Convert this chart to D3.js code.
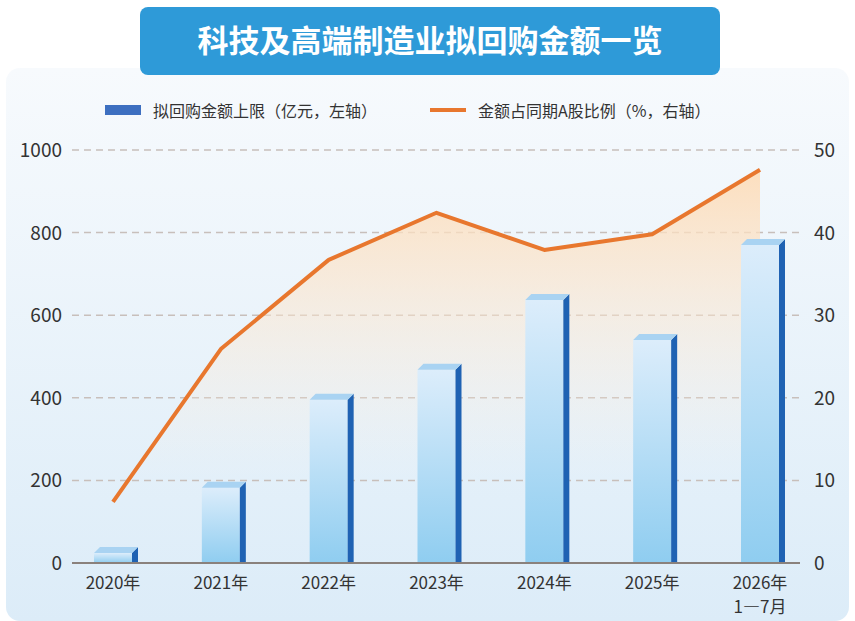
<!DOCTYPE html>
<html lang="zh">
<head>
<meta charset="UTF-8">
<title>科技及高端制造业拟回购金额一览</title>
<style>
  body{margin:0;background:#fff;font-family:"Noto Sans CJK SC","Noto Sans",sans-serif;}
</style>
</head>
<body>
<div id="chart"></div>
<script src="https://cdn.jsdelivr.net/npm/d3@7"></script>
<script>
// 数据
var years = ['2020年', '2021年', '2022年', '2023年', '2024年', '2025年', '2026年'];
var subLabels = ['', '', '', '', '', '', '1—7月'];
var amount = [24, 182, 395, 468, 637, 540, 770];          // 亿元，左轴
var ratio = [7.4, 25.9, 36.7, 42.4, 37.9, 39.8, 47.6];     // %，右轴
var leftTicks = [0, 200, 400, 600, 800, 1000];
var rightTicks = [0, 10, 20, 30, 40, 50];

var W = 855, H = 621;
var svg = d3.select('#chart').append('svg').attr('width', W).attr('height', H);
var defs = svg.append('defs');

var bg = defs.append('linearGradient').attr('id', 'bg').attr('x1', 0).attr('y1', 0).attr('x2', 0).attr('y2', 1);
bg.append('stop').attr('offset', 0).attr('stop-color', '#f7fafd');
bg.append('stop').attr('offset', 1).attr('stop-color', '#dcecf8');
var bar = defs.append('linearGradient').attr('id', 'bar').attr('x1', 0).attr('y1', 0).attr('x2', 0).attr('y2', 1);
bar.append('stop').attr('offset', 0).attr('stop-color', '#dcedfb');
bar.append('stop').attr('offset', 1).attr('stop-color', '#8fcdf0');
var area = defs.append('linearGradient').attr('id', 'area').attr('gradientUnits', 'userSpaceOnUse')
  .attr('x1', 0).attr('y1', 160).attr('x2', 0).attr('y2', 480);
area.append('stop').attr('offset', 0).attr('stop-color', '#fddcb8').attr('stop-opacity', 0.95);
area.append('stop').attr('offset', 1).attr('stop-color', '#fdf0e2').attr('stop-opacity', 0);

// 背景
svg.append('rect').attr('x', 6).attr('y', 68).attr('width', 843).attr('height', 553).attr('rx', 14).attr('fill', 'url(#bg)');
svg.append('rect').attr('x', 140).attr('y', 7).attr('width', 580).attr('height', 68).attr('rx', 8).attr('fill', '#2e9ad8');
svg.append('text').attr('x', 430).attr('y', 52).attr('text-anchor', 'middle').attr('fill', '#fff')
  .attr('font-size', 31).attr('font-weight', 'bold').text('科技及高端制造业拟回购金额一览');

// 图例
svg.append('rect').attr('x', 105).attr('y', 105).attr('width', 36).attr('height', 10).attr('fill', '#3d6fc0');
svg.append('text').attr('x', 153).attr('y', 117).attr('font-size', 16).attr('fill', '#333').text('拟回购金额上限（亿元，左轴）');
svg.append('line').attr('x1', 430).attr('x2', 466).attr('y1', 110).attr('y2', 110).attr('stroke', '#e8772e').attr('stroke-width', 4);
svg.append('text').attr('x', 478).attr('y', 117).attr('font-size', 16).attr('fill', '#333').text('金额占同期A股比例（%，右轴）');

var x = d3.scalePoint().domain(years).range([113, 760]);
var yL = d3.scaleLinear().domain([0, 1000]).range([563, 150]);
var yR = d3.scaleLinear().domain([0, 50]).range([563, 150]);

// 网格
svg.append('g').selectAll('line').data(leftTicks.slice(1)).enter().append('line')
  .attr('x1', 72).attr('x2', 800).attr('y1', d => yL(d)).attr('y2', d => yL(d))
  .attr('stroke', '#c8bfbb').attr('stroke-width', 1.5).attr('stroke-dasharray', '7,5');

// 面积
svg.append('path').datum(ratio)
  .attr('d', d3.area().x((d, i) => x(years[i])).y0(563).y1(d => yR(d)))
  .attr('fill', 'url(#area)');

// 柱
var bw = 38, dep = 6;
var g = svg.append('g').selectAll('g').data(amount).enter().append('g');
g.append('rect').attr('x', (d, i) => x(years[i]) - bw / 2).attr('y', d => yL(d))
  .attr('width', bw).attr('height', d => 563 - yL(d)).attr('fill', 'url(#bar)');
g.append('path').attr('d', (d, i) => {
  var r = x(years[i]) + bw / 2, t = yL(d);
  return 'M' + r + ',' + t + 'L' + (r + dep) + ',' + (t - dep) + 'L' + (r + dep) + ',563L' + r + ',563Z';
}).attr('fill', '#1f62b3');
g.append('path').attr('d', (d, i) => {
  var l = x(years[i]) - bw / 2, t = yL(d);
  return 'M' + l + ',' + t + 'L' + (l + dep) + ',' + (t - dep) + 'L' + (l + bw + dep) + ',' + (t - dep) + 'L' + (l + bw) + ',' + t + 'Z';
}).attr('fill', '#a9d3f2');

// 折线
svg.append('path').datum(ratio)
  .attr('d', d3.line().x((d, i) => x(years[i])).y(d => yR(d)))
  .attr('fill', 'none').attr('stroke', '#e8772e').attr('stroke-width', 4).attr('stroke-linejoin', 'round');

// 坐标轴
svg.append('line').attr('x1', 72).attr('x2', 800).attr('y1', 563).attr('y2', 563).attr('stroke', '#8a817c').attr('stroke-width', 2);
svg.append('g').selectAll('text').data(leftTicks).enter().append('text')
  .attr('x', 62).attr('y', d => yL(d) + 7).attr('text-anchor', 'end').attr('font-size', 19).attr('fill', '#333').text(d => d);
svg.append('g').selectAll('text').data(rightTicks).enter().append('text')
  .attr('x', 814).attr('y', d => yR(d) + 7).attr('font-size', 19).attr('fill', '#333').text(d => d);
svg.append('g').selectAll('text').data(years).enter().append('text')
  .attr('x', d => x(d)).attr('y', 589).attr('text-anchor', 'middle').attr('font-size', 17).attr('fill', '#333').text(d => d);
svg.append('g').selectAll('text').data(subLabels).enter().append('text')
  .attr('x', (d, i) => x(years[i])).attr('y', 613).attr('text-anchor', 'middle').attr('font-size', 17).attr('fill', '#333').text(d => d);
</script>
</body>
</html>
